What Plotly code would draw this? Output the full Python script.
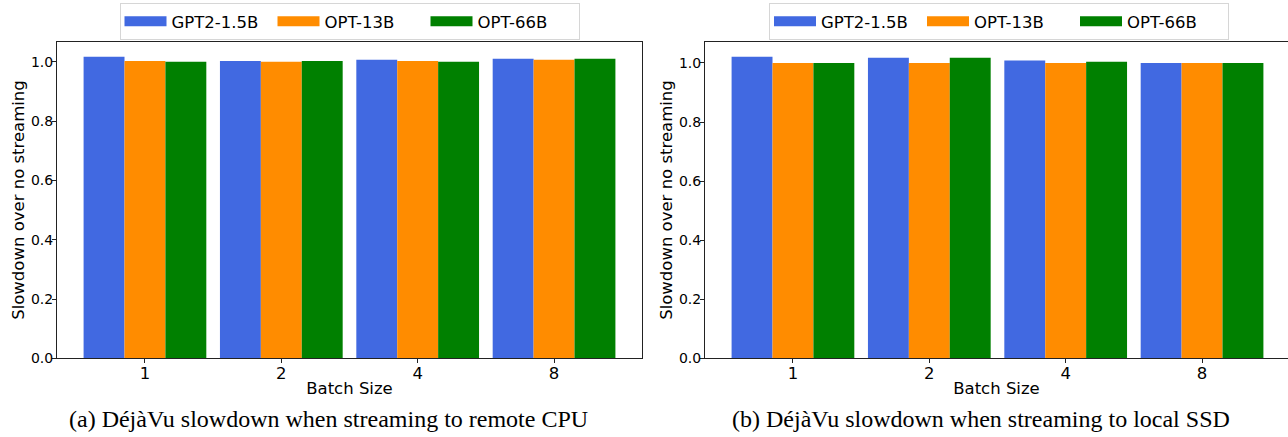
import plotly.graph_objects as go

batch_sizes = ["1", "2", "4", "8"]
models = ["GPT2-1.5B", "OPT-13B", "OPT-66B"]
colors = ["#4169E1", "#FF8C00", "#008000"]

# Slowdown when streaming to remote CPU (panel a)
cpu_gpt2 = [1.017, 1.003, 1.007, 1.010]
cpu_opt13 = [1.003, 1.000, 1.003, 1.007]
cpu_opt66 = [1.000, 1.003, 1.000, 1.010]

# Slowdown when streaming to local SSD (panel b)
ssd_gpt2 = [1.021, 1.018, 1.008, 1.000]
ssd_opt13 = [1.000, 1.000, 1.000, 1.000]
ssd_opt66 = [1.000, 1.018, 1.004, 1.000]

captions = ["(a) DéjàVu slowdown when streaming to remote CPU",
            "(b) DéjàVu slowdown when streaming to local SSD"]

W, H = 1288, 437
xpos = list(range(len(batch_sizes)))

fig = go.Figure()
panels = [(cpu_gpt2, cpu_opt13, cpu_opt66), (ssd_gpt2, ssd_opt13, ssd_opt66)]
for p, series in enumerate(panels):
    xa = "x" if p == 0 else "x2"
    ya = "y" if p == 0 else "y2"
    lg = "legend" if p == 0 else "legend2"
    for name, vals, col in zip(models, series, colors):
        fig.add_trace(go.Bar(x=xpos, y=vals, name=name, marker=dict(color=col, line=dict(width=0)),
                             xaxis=xa, yaxis=ya, showlegend=False, legendgroup=f"{p}{name}"))
    for name, col in zip(models, colors):
        fig.add_trace(go.Scatter(x=[None], y=[None], mode="lines", name=name,
                                 line=dict(color=col, width=12), xaxis=xa, yaxis=ya,
                                 legend=lg, showlegend=True, legendgroup=f"{p}{name}"))

font = dict(family="DejaVu Sans", color="black")
y0p = (H - 358.3) / H
y1p = (H - 41.7) / H

def xaxis_cfg(domain, rng):
    return dict(domain=domain, range=rng, tickvals=xpos, ticktext=batch_sizes,
                showline=True, linecolor="#222", linewidth=1, mirror=True,
                ticks="outside", ticklen=4, tickcolor="#222", showgrid=False, zeroline=False,
                tickfont=dict(size=16.5, **font), ticklabelstandoff=-4,
                title=dict(text="Batch Size", font=dict(size=16.5, **font), standoff=0),
                automargin=False)

def yaxis_cfg(rng):
    return dict(domain=[y0p, y1p], range=rng, tickvals=[0, 0.2, 0.4, 0.6, 0.8, 1.0],
                tickformat=".1f", showline=True, linecolor="#222", linewidth=1, mirror=True,
                ticks="outside", ticklen=4, tickcolor="#222", showgrid=False, zeroline=False,
                tickfont=dict(size=14, **font), ticklabelstandoff=-4,
                title=dict(text="Slowdown over no streaming", font=dict(size=16.5, **font), standoff=2),
                automargin=False)

left_dom = [57 / W, 642 / W]
right_dom = [705 / W, 1.0]
span = (642 - 57) / 4.29
legend_common = dict(orientation="h", xanchor="center", y=(H - 3) / H, yanchor="top",
                     font=dict(size=16.5, **font), bordercolor="#d6d6d6", borderwidth=1,
                     itemwidth=42, entrywidth=96, entrywidthmode="pixels",
                     itemclick=False, bgcolor="rgba(255,255,255,0.8)")
fig.update_layout(
    width=W, height=H, margin=dict(l=0, r=0, t=0, b=0, autoexpand=False),
    paper_bgcolor="white", plot_bgcolor="white",
    barmode="group", bargap=0.1, bargroupgap=0,
    xaxis=xaxis_cfg(left_dom, [-0.645, 3.645]),
    yaxis=yaxis_cfg([0, max(cpu_gpt2 + cpu_opt13 + cpu_opt66) * 1.05]),
    xaxis2=dict(xaxis_cfg(right_dom, [-0.645, (W - 705) / span - 0.645]), anchor="y2"),
    yaxis2=dict(yaxis_cfg([0, max(ssd_gpt2 + ssd_opt13 + ssd_opt66) * 1.05]), anchor="x2"),
    legend=dict(legend_common, x=349.5 / W),
    legend2=dict(legend_common, x=999 / W),
)

for cx, txt in zip([328, 981], captions):
    fig.add_annotation(text=txt, x=cx / W, y=(H - 419) / H, xref="paper", yref="paper",
                       xanchor="center", yanchor="middle", showarrow=False,
                       font=dict(family="Liberation Serif", size=24, color="black"))

fig.write_html("out.html")
